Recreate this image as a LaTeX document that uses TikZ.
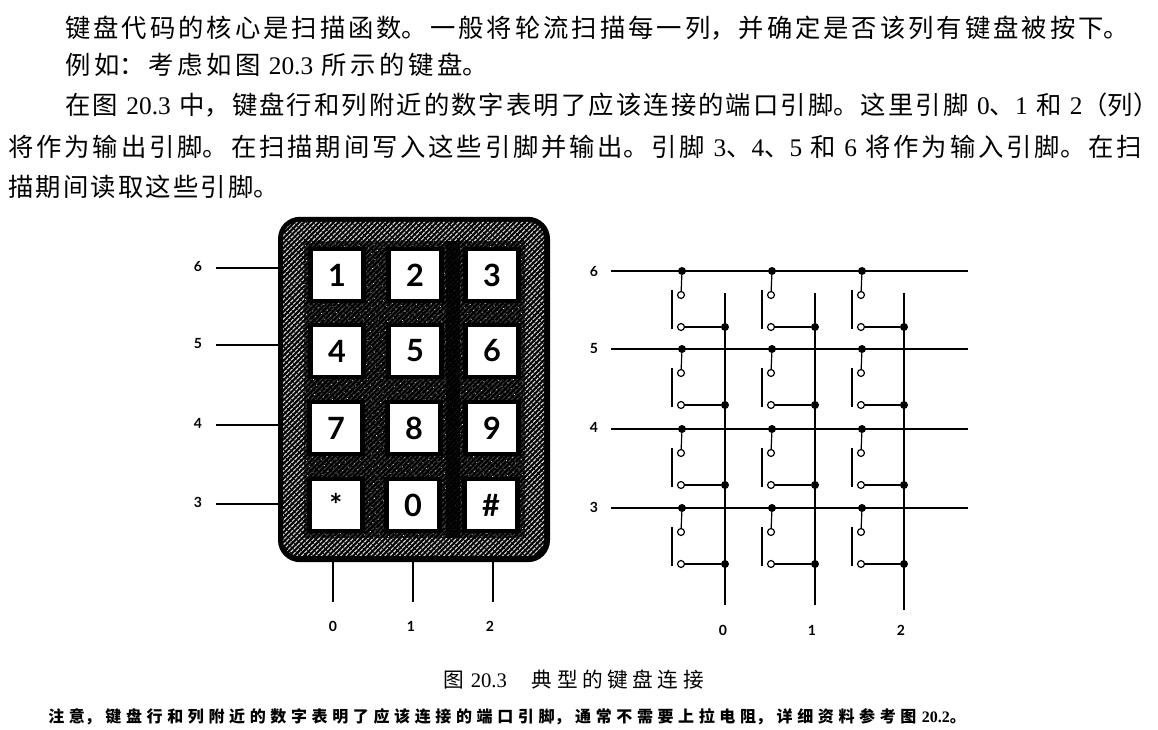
\documentclass[tikz,border=0pt]{standalone}
\usepackage{fontspec}
\setmainfont{Liberation Serif}
\newfontfamily\cjk{Noto Sans CJK SC}
\newfontfamily\lab{Lato}
\usetikzlibrary{patterns,patterns.meta}
\XeTeXlinebreaklocale "zh"
\XeTeXlinebreakskip=0pt plus 6pt
\newcommand\fitline[1]{\parindent=0pt\parfillskip=0pt\relax #1\par}
\newcommand\lat[1]{{\rmfamily #1}}
\tikzset{
  x=0.75pt,y=-0.75pt,
  bodytext/.style={anchor=west,inner sep=0pt,font=\cjk\fontsize{19}{24}\selectfont},
  captiontext/.style={anchor=west,inner sep=0pt,font=\cjk\fontsize{15.5}{20}\selectfont},
  notetext/.style={anchor=west,inner sep=0pt,font=\cjk\bfseries\fontsize{12}{16}\selectfont},
  keypad/.style={draw=black,line width=3pt,fill=black,rounded corners=15pt,minimum width=201pt,minimum height=256pt,inner sep=0pt},
  keycap/.style={draw=black,line width=3.5pt,fill=white,minimum width=39.5pt,minimum height=39pt,inner sep=0pt,font=\lab\bfseries\fontsize{23}{26}\selectfont},
  pinlabel/.style={inner sep=0pt,font=\lab\bfseries\fontsize{10.5}{12}\selectfont},
  wire/.style={line width=0.9pt,black},
  lead/.style={line width=0.9pt,black},
  contactbar/.style={line width=2.1pt,black},
  junction/.style={circle,fill=black,minimum size=6pt,inner sep=0pt},
  contact/.style={circle,draw=black,fill=white,line width=0.9pt,minimum size=5.2pt,inner sep=0pt},
}
\begin{document}
\begin{tikzpicture}
\useasboundingbox (0,0) rectangle (1158,730);
\fill[white] (0,0) rectangle (1158,730);

% body text
\node[bodytext,text width=812pt] at (65,28) {\fitline{键盘代码的核心是扫描函数。一般将轮流扫描每一列，并确定是否该列有键盘被按下。}};
\node[bodytext,text width=334pt] at (65,65) {\fitline{例如：考虑如图 \lat{20.3} 所示的键盘。}};
\node[bodytext,text width=830pt] at (65,105) {\fitline{在图 \lat{20.3} 中，键盘行和列附近的数字表明了应该连接的端口引脚。这里引脚 \lat{0}、\lat{1} 和 \lat{2}（列）}};
\node[bodytext,text width=864pt] at (8,147) {\fitline{将作为输出引脚。在扫描期间写入这些引脚并输出。引脚 \lat{3}、\lat{4}、\lat{5} 和 \lat{6} 将作为输入引脚。在扫}};
\node[bodytext,text width=213pt] at (8,187) {\fitline{描期间读取这些引脚。}};

% keypad
\node[keypad] (pad) at (414,389.5) {};
\fill[pattern={Lines[angle=45,distance=2.6pt,line width=0.85pt]},pattern color=white!85!black,rounded corners=12pt] (283,222) rectangle (544,556);
\fill[pattern={Lines[angle=-45,distance=3.4pt,line width=0.55pt]},pattern color=black,rounded corners=12pt] (283,222) rectangle (544,556);
\fill[black,opacity=.72] (304,241) rectangle (525,538);
\fill[pattern={Dots[distance=5pt,radius=.4pt,angle=30]},pattern color=white] (304,241) rectangle (525,538);
\fill[black,opacity=.8] (446,241) rectangle (460,538);

\foreach \kname/\ktext/\kx/\ky in {
  k1/1/337/275,k2/2/415/275,k3/3/492/275,
  k4/4/337/351,k5/5/415/351,k6/6/492/351,
  k7/7/336/428,k8/8/414/428,k9/9/492/428,
  kstar/*/336/505,kzero/0/413/505,khash/\#/491/505}
  \node[keycap] (\kname) at (\kx,\ky) {\ktext};

% keypad row leads
\foreach \rn/\ry in {6/268,5/345,4/425,3/504}{
  \coordinate (lead\rn) at (216,\ry);
  \node[pinlabel] (plab\rn) at (198,\ry-2) {\rn};
  \draw[lead] (lead\rn) -- (lead\rn -| pad.west);
}
% keypad column leads
\foreach \cn/\cx/\lx in {0/333/333,1/413/411,2/493/490}{
  \coordinate (cend\cn) at (\cx,602);
  \node[pinlabel] (clab\cn) at (\lx,626) {\cn};
  \draw[lead] (cend\cn |- pad.south) -- (cend\cn);
}

% matrix: rows
\foreach \rn/\ry/\ly in {6/271/271,5/349/348,4/429/427,3/508/507}{
  \coordinate (rw\rn) at (611,\ry);
  \coordinate (re\rn) at (968,\ry);
  \node[pinlabel] (rlab\rn) at (594,\ly) {\rn};
  \draw[wire] (rw\rn) -- (re\rn);
}
% matrix: columns
\foreach \cn/\cx/\lx/\yb in {0/725/723/605,1/815/812/605,2/904/901/610}{
  \coordinate (vt\cn) at (\cx,293);
  \coordinate (vb\cn) at (\cx,\yb);
  \node[pinlabel] (vlab\cn) at (\lx,630) {\cn};
  \draw[wire] (vt\cn) -- (vb\cn);
}
% matrix: switches
\foreach \rn/\ry in {6/271,5/349,4/429,3/508}{
  \foreach \cn/\cx/\vx in {0/682/725,1/772/815,2/862/904}{
    \node[junction] (rd\rn\cn) at (\cx,\ry) {};
    \node[contact] (st\rn\cn) at (\cx-1,\ry+24) {};
    \node[contact] (sb\rn\cn) at (\cx-1,\ry+56) {};
    \node[junction] (vd\rn\cn) at (\vx,\ry+56) {};
    \draw[wire] (rd\rn\cn) -- (st\rn\cn);
    \draw[wire] (sb\rn\cn) -- (vd\rn\cn);
    \coordinate (bt\rn\cn) at (\cx-10,\ry+19);
    \coordinate (bb\rn\cn) at (\cx-10,\ry+58);
    \draw[contactbar] (bt\rn\cn) -- (bb\rn\cn);
  }
}

% caption and note
\node[captiontext,text width=213pt] at (443,680) {\fitline{图 \lat{20.3}\hspace{1.2em}典型的键盘连接}};
\node[notetext,text width=702pt] at (48,717) {\fitline{注意，键盘行和列附近的数字表明了应该连接的端口引脚，通常不需要上拉电阻，详细资料参考图 \lat{20.2}。}};
\end{tikzpicture}
\end{document}
